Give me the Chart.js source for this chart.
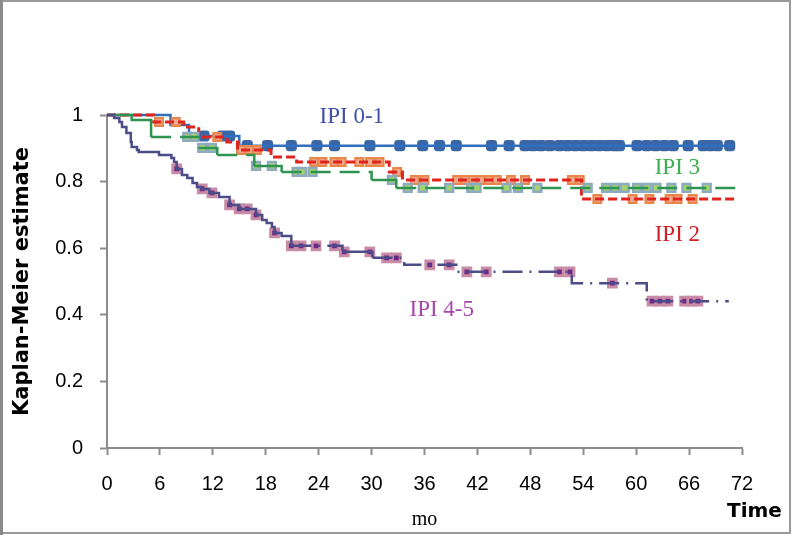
<!DOCTYPE html>
<html>
<head>
<meta charset="utf-8">
<script src="https://cdn.jsdelivr.net/npm/chart.js@4.4.0/dist/chart.umd.min.js"></script>
<style>
  html, body { margin: 0; padding: 0; background: #fff; }
  #wrap { width: 800px; height: 537px; }
</style>
</head>
<body>
<div id="wrap"><canvas id="kmChart" width="800" height="537"></canvas></div>
<script>
// x = months, y = Kaplan-Meier survival estimate
const xTicks = [0, 6, 12, 18, 24, 30, 36, 42, 48, 54, 60, 66, 72];
const yTicks = [0, 0.2, 0.4, 0.6, 0.8, 1];

// IPI 0-1
const ipi01Time = [0, 7.2, 9.3, 15.0, 71.0];
const ipi01Surv = [1, 0.97, 0.937, 0.908, 0.908];
const ipi01Cens = [11.0, 13.1, 13.9, 15.9, 18.2, 20.9, 23.8, 25.8, 29.8, 33.2, 35.8, 37.7, 39.6, 43.6, 45.6,
  47.4, 48.3, 49.2, 50.2, 51.3, 52.2, 53.1, 54.0, 54.9, 55.8, 56.7, 57.5, 58.1, 60.1,
  61.2, 62.2, 63.2, 64.2, 65.9, 67.6, 68.4, 69.2, 70.6];

// IPI 2
const ipi2Time = [0, 5.3, 8.7, 10.4, 13.6, 14.8, 18.6, 21.5, 32.0, 33.5, 53.8, 71.5];
const ipi2Surv = [1, 0.979, 0.964, 0.934, 0.919, 0.895, 0.874, 0.859, 0.829, 0.805, 0.748, 0.748];
const ipi2Cens = [5.9, 7.8, 12.5, 15.2, 16.1, 17.0, 23.5, 24.4, 25.8, 26.6, 28.6, 29.8, 30.9, 32.9,
  34.9, 36.0, 39.7, 40.6, 41.5, 42.4, 43.3, 44.2, 45.8, 47.4, 52.7, 53.6,
  55.6, 59.6, 61.5, 63.8, 64.7, 66.4];

// IPI 3
const ipi3Time = [0, 2.8, 5.0, 10.4, 12.5, 16.7, 19.8, 30.0, 32.8, 71.4];
const ipi3Surv = [1, 0.985, 0.934, 0.901, 0.88, 0.847, 0.829, 0.805, 0.781, 0.781];
const ipi3Cens = [9.1, 9.9, 10.8, 11.9, 16.9, 18.7, 21.5, 22.1, 23.3, 32.3, 34.1, 35.8, 38.8, 41.3, 41.9,
  45.3, 46.6, 48.8, 54.5, 56.6, 57.6, 58.7, 60.1, 61.2, 62.3, 64.0, 65.7, 68.0];

// IPI 4-5
const ipi45Time = [0, 0.8, 1.4, 1.7, 2.2, 2.7, 2.8, 3.4, 3.6, 5.9, 7.3, 7.6, 7.9, 8.5, 9.1, 9.7, 10.2, 10.7,
  11.6, 12.7, 13.9, 15.0, 16.9, 17.6, 18.1, 18.7, 19.0, 19.8, 20.9, 26.7, 30.1, 33.7, 39.6, 52.7, 61.2, 70.5];
const ipi45Surv = [1, 0.991, 0.979, 0.964, 0.946, 0.919, 0.904, 0.895, 0.889, 0.880, 0.871, 0.859, 0.838, 0.820,
  0.811, 0.796, 0.784, 0.778, 0.766, 0.754, 0.730, 0.718, 0.700, 0.685, 0.676, 0.664, 0.646, 0.637,
  0.607, 0.589, 0.571, 0.550, 0.529, 0.495, 0.441, 0.441];
const ipi45Cens = [7.9, 10.8, 11.9, 13.9, 15.0, 15.9, 16.9, 19.0, 20.9, 22.0, 23.7, 25.8, 26.9, 29.8, 31.7, 32.8,
  36.6, 38.8, 40.8, 43.0, 51.3, 52.5, 57.3, 61.8, 62.7, 63.6, 65.5, 66.3, 67.0];

const groupLabels = ['IPI 0-1', 'IPI 2', 'IPI 3', 'IPI 4-5'];

function stepPoints(times, surv) {
  return times.map((t, i) => ({ x: t, y: surv[i] }));
}
// censored marks sit on the curve: take the estimate in force at that time
function survAt(times, surv, t) {
  let s = surv[0];
  for (let i = 0; i < times.length; i++) {
    if (times[i] <= t) s = surv[i];
  }
  return s;
}
function censPoints(times, surv, cens) {
  return cens.map(t => ({ x: t, y: survAt(times, surv, t) }));
}
// long flat stretches show the dash pattern, short steps look solid
function longDash(pattern) {
  return ctx => (ctx.p1.x - ctx.p0.x > 30 ? pattern : undefined);
}

const lineBase = { showLine: true, stepped: true, pointRadius: 0, fill: false, clip: 6 };

const datasets = [
  Object.assign({}, lineBase, {
    label: groupLabels[3], data: stepPoints(ipi45Time, ipi45Surv),
    borderColor: '#4c4c88', borderWidth: 2.5, segment: { borderDash: longDash([20, 7, 2, 7]) }
  }),
  {
    label: groupLabels[3] + ' censored', data: censPoints(ipi45Time, ipi45Surv, ipi45Cens),
    showLine: false, pointStyle: 'rect', pointRadius: 5.5, borderWidth: 3,
    borderColor: '#c98ca6', backgroundColor: '#6e2888', clip: 8
  },
  Object.assign({}, lineBase, {
    label: groupLabels[2], data: stepPoints(ipi3Time, ipi3Surv),
    borderColor: '#2e9450', borderWidth: 2.5, segment: { borderDash: longDash([20, 9]) }
  }),
  {
    label: groupLabels[2] + ' censored', data: censPoints(ipi3Time, ipi3Surv, ipi3Cens),
    showLine: false, pointStyle: 'rect', pointRadius: 5.5, borderWidth: 2.5,
    borderColor: '#8eaabf', backgroundColor: '#a3d46e', clip: 8
  },
  Object.assign({}, lineBase, {
    label: groupLabels[1], data: stepPoints(ipi2Time, ipi2Surv),
    borderColor: '#e0231c', borderWidth: 3, borderDash: [9, 4]
  }),
  {
    label: groupLabels[1] + ' censored', data: censPoints(ipi2Time, ipi2Surv, ipi2Cens),
    showLine: false, pointStyle: 'rect', pointRadius: 5.5, borderWidth: 2.2,
    borderColor: '#e8874a', backgroundColor: '#f0aa92', clip: 8
  },
  Object.assign({}, lineBase, {
    label: groupLabels[0], data: stepPoints(ipi01Time, ipi01Surv),
    borderColor: '#2f6fbd', borderWidth: 2.5
  }),
  {
    label: groupLabels[0] + ' censored', data: censPoints(ipi01Time, ipi01Surv, ipi01Cens),
    showLine: false, pointStyle: 'rectRounded', pointRadius: 6.5, borderWidth: 0,
    borderColor: '#3a66a6', backgroundColor: '#3a66a6', clip: 8
  }
];

// curve names written next to the curves (data coordinates)
const curveNotes = [
  { text: groupLabels[0], x: 24.1, y: 0.994, color: '#4050aa' },
  { text: groupLabels[2], x: 62.1, y: 0.841, color: '#3cb04e' },
  { text: groupLabels[1], x: 62.1, y: 0.640, color: '#cf2027' },
  { text: groupLabels[3], x: 34.3, y: 0.414, color: '#a846ae' }
];

const framePlugin = {
  id: 'frame',
  beforeDraw(chart) {
    const c = chart.ctx;
    c.save();
    c.fillStyle = '#ffffff';
    c.fillRect(0, 0, chart.width, chart.height);
    c.strokeStyle = '#9a9a9a';
    c.lineWidth = 2;
    c.strokeRect(1, 1, 789, 532);
    c.fillStyle = '#8a8a8a';
    c.fillRect(0, 0, 3, 535);
    c.restore();
  },
  afterDraw(chart) {
    const c = chart.ctx;
    const xs = chart.scales.x, ys = chart.scales.y;
    c.save();
    c.textBaseline = 'middle';
    c.textAlign = 'left';
    c.font = '23px "Liberation Serif", "Times New Roman", serif';
    curveNotes.forEach(n => {
      c.fillStyle = n.color;
      c.fillText(n.text, xs.getPixelForValue(n.x), ys.getPixelForValue(n.y));
    });
    c.fillStyle = '#000';
    c.font = 'bold 20px "DejaVu Sans", sans-serif';
    c.fillText('Time', 727, 512);
    c.restore();
  }
};

new Chart(document.getElementById('kmChart'), {
  type: 'scatter',
  data: { datasets: datasets },
  options: {
    responsive: false,
    animation: false,
    devicePixelRatio: 1,
    layout: { padding: { left: 0, top: 115, right: 58, bottom: 0 } },
    plugins: { legend: { display: false }, tooltip: { enabled: false } },
    scales: {
      x: {
        type: 'linear', min: 0, max: 72,
        afterBuildTicks: s => { s.ticks = xTicks.map(v => ({ value: v })); },
        afterFit: s => { s.height = 89; },
        border: { color: '#8c8c8c', width: 2 },
        grid: { drawOnChartArea: false, tickLength: 7, tickColor: '#8c8c8c', tickWidth: 2 },
        ticks: {
          color: '#000', padding: 17, maxRotation: 0,
          font: { family: '"Liberation Sans", Arial, sans-serif', size: 20 }
        },
        title: {
          display: true, text: 'mo', color: '#000', padding: { top: 0, bottom: 5 },
          font: { family: '"Liberation Serif", "Times New Roman", serif', size: 20 }
        }
      },
      y: {
        type: 'linear', min: 0, max: 1,
        afterBuildTicks: s => { s.ticks = yTicks.map(v => ({ value: v })); },
        afterFit: s => { s.width = 107; },
        border: { color: '#8c8c8c', width: 2 },
        grid: { drawOnChartArea: false, tickLength: 7, tickColor: '#8c8c8c', tickWidth: 2 },
        ticks: {
          color: '#000', padding: 17,
          callback: v => String(v),
          font: { family: '"Liberation Sans", Arial, sans-serif', size: 20 }
        },
        title: {
          display: true, text: 'Kaplan-Meier estimate', color: '#000', padding: { top: 10, bottom: 0 },
          font: { family: '"DejaVu Sans", sans-serif', size: 21, weight: 'bold' }
        }
      }
    }
  },
  plugins: [framePlugin]
});
</script>
</body>
</html>
